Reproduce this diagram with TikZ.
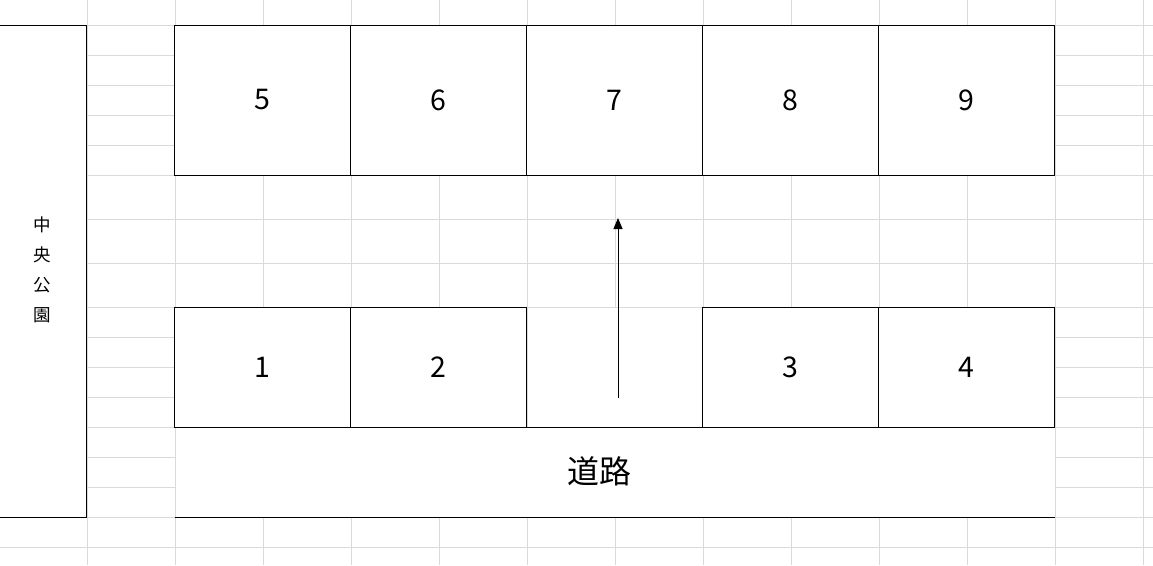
\documentclass[tikz,border=0pt]{standalone}
\usepackage{fontspec}
\newfontfamily\jp{Noto Sans CJK JP}
\usetikzlibrary{arrows.meta}
\definecolor{gridgray}{RGB}{218,218,218}
\begin{document}
\begin{tikzpicture}[x=1pt,y=-1pt,
  gridline/.style={draw=gridgray,line width=1pt},
  border/.style={draw=black,line width=1pt},
  lot/.style={draw=black,fill=white,line width=1pt,inner sep=0pt,outer sep=0pt,
    font=\jp\fontsize{28.5}{30}\selectfont},
  toplot/.style={lot,minimum width=176pt,minimum height=150pt},
  botlot/.style={lot,minimum width=176pt,minimum height=120pt},
  blank/.style={fill=white,inner sep=0pt,outer sep=0pt},
  label/.style={inner sep=0pt,font=\jp\fontsize{32}{34}\selectfont},
  parklabel/.style={inner sep=0pt,align=center,font=\jp\fontsize{17.5}{30}\selectfont}]
\clip (0,0) rectangle (1153,565);
\fill[white] (0,0) rectangle (1153,565);
% spreadsheet grid
\foreach \x in {87,175,...,1143} \draw[gridline] (\x,0) -- (\x,565);
\foreach \y in {25,55,85,115,145,175,219,263,307,337,367,397,427,457,487,517,547}
  \draw[gridline] (0,\y) -- (1153,\y);
% merged blank cells
\node[blank,minimum width=175pt,minimum height=119pt] (gap) at (615,367.5) {};
\node[blank,minimum width=879pt,minimum height=90pt] (road) at (615,472) {};
% park
\node[lot,minimum width=92pt,minimum height=492pt] (park) at (40.5,271) {};
\node[parklabel] (parkname) at (42,270) {中\\央\\公\\園};
% top lots
\node[toplot] (p5) at (262.5,100) {5};
\node[toplot] (p6) at (438.5,100) {6};
\node[toplot] (p7) at (614.5,100) {7};
\node[toplot] (p8) at (790.5,100) {8};
\node[toplot] (p9) at (966.5,100) {9};
% bottom lots
\node[botlot] (p1) at (262.5,367) {1};
\node[botlot] (p2) at (438.5,367) {2};
\node[botlot] (p3) at (790.5,367) {3};
\node[botlot] (p4) at (966.5,367) {4};
% road
\draw[border] ([xshift=-1pt]road.north west) -- (road.north east);
\draw[border] ([xshift=-1pt]road.south west) -- (road.south east);
\node[label] (roadname) at (599,471) {道路};
% arrow
\coordinate (ain) at (618,398);
\coordinate (aout) at (618,218);
\draw[line width=1pt,-{Triangle[width=9pt,length=11pt]}] (ain) -- (aout);
\end{tikzpicture}
\end{document}
